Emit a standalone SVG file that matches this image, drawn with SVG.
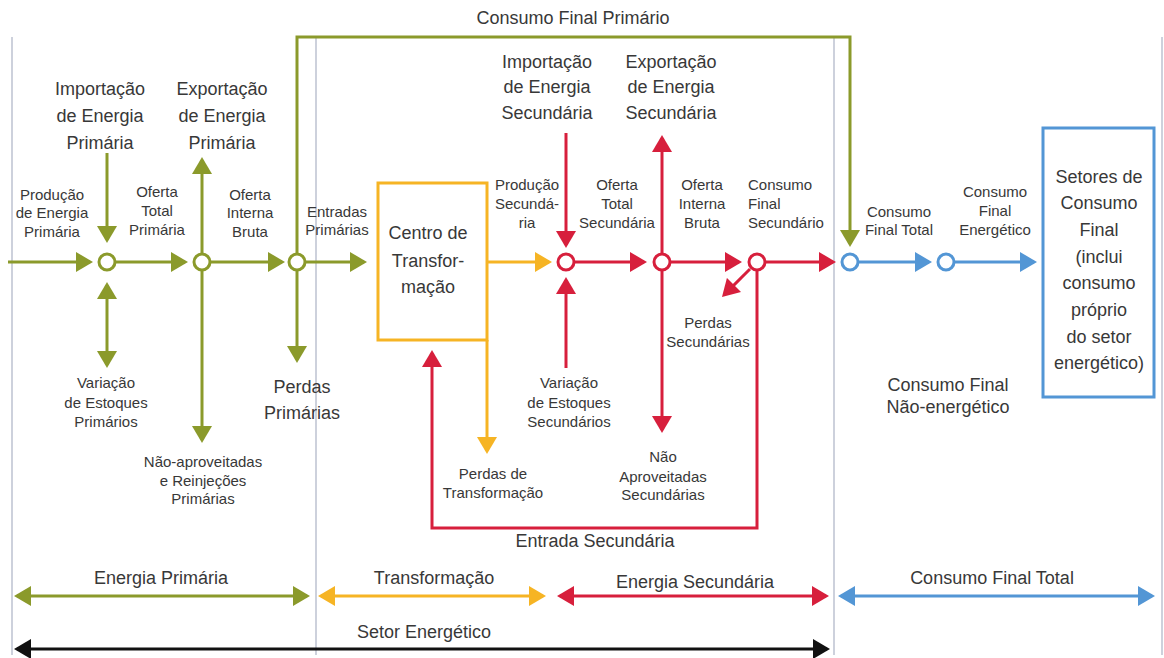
<svg xmlns="http://www.w3.org/2000/svg" width="1164" height="658" viewBox="0 0 1164 658">
<style>
text{font-family:"Liberation Sans",Arial,sans-serif;fill:#383838;text-anchor:middle}
.b{font-size:18px}
.s{font-size:15px}
.l{text-anchor:start}
.grid{stroke:#cdd1dc;stroke-width:2;fill:none}
.c{fill:none;stroke-width:3;stroke-linejoin:miter}
.g{stroke:#8b9a2b}.y{stroke:#f6b424}.r{stroke:#d71f3c}.u{stroke:#5396d5}.k{stroke:#111}
.n{fill:#fff;stroke-width:3}
</style>
<defs>
<marker id="ag" viewBox="0 0 17 20" refX="14" refY="10" markerWidth="17" markerHeight="20" markerUnits="userSpaceOnUse" orient="auto-start-reverse"><path d="M0,0L17,10L0,20z" fill="#8b9a2b"/></marker>
<marker id="ay" viewBox="0 0 17 20" refX="14" refY="10" markerWidth="17" markerHeight="20" markerUnits="userSpaceOnUse" orient="auto-start-reverse"><path d="M0,0L17,10L0,20z" fill="#f6b424"/></marker>
<marker id="ar" viewBox="0 0 17 20" refX="14" refY="10" markerWidth="17" markerHeight="20" markerUnits="userSpaceOnUse" orient="auto-start-reverse"><path d="M0,0L17,10L0,20z" fill="#d71f3c"/></marker>
<marker id="au" viewBox="0 0 17 20" refX="14" refY="10" markerWidth="17" markerHeight="20" markerUnits="userSpaceOnUse" orient="auto-start-reverse"><path d="M0,0L17,10L0,20z" fill="#5396d5"/></marker>
<marker id="ak" viewBox="0 0 17 20" refX="14" refY="10" markerWidth="17" markerHeight="20" markerUnits="userSpaceOnUse" orient="auto-start-reverse"><path d="M0,0L17,10L0,20z" fill="#111"/></marker>
</defs>
<rect width="1164" height="658" fill="#fff"/>
<g id="grid">
<line class="grid" x1="12" y1="37" x2="12" y2="655"/>
<line class="grid" x1="316" y1="37" x2="316" y2="655"/>
<line class="grid" x1="834" y1="37" x2="834" y2="655"/>
<line class="grid" x1="1162" y1="37" x2="1162" y2="655"/>
</g>
<g id="connectors">
<path class="c g" d="M8,262H90" marker-end="url(#ag)"/>
<path class="c g" d="M116,262H185" marker-end="url(#ag)"/>
<path class="c g" d="M211,262H282" marker-end="url(#ag)"/>
<path class="c g" d="M306,262H364" marker-end="url(#ag)"/>
<path class="c g" d="M107,153V240" marker-end="url(#ag)"/>
<path class="c g" d="M107,285V365" marker-start="url(#ag)" marker-end="url(#ag)"/>
<path class="c g" d="M202,253V160" marker-end="url(#ag)"/>
<path class="c g" d="M202,271V440" marker-end="url(#ag)"/>
<path class="c g" d="M297,271V360" marker-end="url(#ag)"/>
<path class="c g" d="M297,253V37H850V244" marker-end="url(#ag)"/>
<path class="c y" d="M487,262H549" marker-end="url(#ay)"/>
<path class="c y" d="M487,340V451" marker-end="url(#ay)"/>
<path class="c r" d="M566,133V245" marker-end="url(#ar)"/>
<path class="c r" d="M566,368V280" marker-end="url(#ar)"/>
<path class="c r" d="M575,262H644" marker-end="url(#ar)"/>
<path class="c r" d="M662,253V138" marker-end="url(#ar)"/>
<path class="c r" d="M662,271V430" marker-end="url(#ar)"/>
<path class="c r" d="M671,262H739" marker-end="url(#ar)"/>
<path class="c r" d="M766,262H833" marker-end="url(#ar)"/>
<path class="c r" d="M750,269L724.1,294.9" marker-end="url(#ar)"/>
<path class="c r" d="M757,271V528H432V353" marker-end="url(#ar)"/>
<path class="c u" d="M859,262H929" marker-end="url(#au)"/>
<path class="c u" d="M955,262H1034" marker-end="url(#au)"/>
<path class="c g" d="M17,596H307" marker-start="url(#ag)" marker-end="url(#ag)"/>
<path class="c y" d="M321,596H543" marker-start="url(#ay)" marker-end="url(#ay)"/>
<path class="c r" d="M560,596H826" marker-start="url(#ar)" marker-end="url(#ar)"/>
<path class="c u" d="M841,596H1152" marker-start="url(#au)" marker-end="url(#au)"/>
<path class="c k" d="M17,649H827" marker-start="url(#ak)" marker-end="url(#ak)"/>
</g>
<g id="node-p1"><circle class="n g" cx="107" cy="262" r="8"/></g>
<g id="node-p2"><circle class="n g" cx="202" cy="262" r="8"/></g>
<g id="node-p3"><circle class="n g" cx="297" cy="262" r="8"/></g>
<g id="node-s1"><circle class="n r" cx="566" cy="262" r="8"/></g>
<g id="node-s2"><circle class="n r" cx="662" cy="262" r="8"/></g>
<g id="node-s3"><circle class="n r" cx="757" cy="262" r="8"/></g>
<g id="node-f1"><circle class="n u" cx="850" cy="262" r="8"/></g>
<g id="node-f2"><circle class="n u" cx="946" cy="262" r="8"/></g>
<g id="node-centro">
<rect x="378" y="183" width="109" height="157" fill="none" class="y" stroke-width="3"/>
<text class="b" x="428" y="239">Centro de</text>
<text class="b" x="428" y="267">Transfor-</text>
<text class="b" x="428" y="293">mação</text>
</g>
<g id="node-setores">
<rect x="1043" y="128" width="111" height="269" fill="none" class="u" stroke-width="3"/>
<text class="b" x="1099" y="183">Setores de</text>
<text class="b" x="1099" y="209">Consumo</text>
<text class="b" x="1099" y="236">Final</text>
<text class="b" x="1099" y="263">(inclui</text>
<text class="b" x="1099" y="289">consumo</text>
<text class="b" x="1099" y="316">próprio</text>
<text class="b" x="1099" y="343">do setor</text>
<text class="b" x="1099" y="369">energético)</text>
</g>
<g id="labels">
<text class="b" x="573" y="24">Consumo Final Primário</text>
<text class="b" x="100" y="95">Importação</text><text class="b" x="100" y="122">de Energia</text><text class="b" x="100" y="149">Primária</text>
<text class="b" x="222" y="95">Exportação</text><text class="b" x="222" y="122">de Energia</text><text class="b" x="222" y="149">Primária</text>
<text class="b" x="547" y="68">Importação</text><text class="b" x="547" y="93">de Energia</text><text class="b" x="547" y="119">Secundária</text>
<text class="b" x="671" y="68">Exportação</text><text class="b" x="671" y="93">de Energia</text><text class="b" x="671" y="119">Secundária</text>
<text class="b" x="302" y="393">Perdas</text><text class="b" x="302" y="419">Primárias</text>
<text class="b" x="595" y="547">Entrada Secundária</text>
<text class="b" x="948" y="391">Consumo Final</text><text class="b" x="948" y="413">Não-energético</text>
<text class="s" x="52" y="200">Produção</text><text class="s" x="52" y="218">de Energia</text><text class="s" x="52" y="237">Primária</text>
<text class="s" x="157" y="197">Oferta</text><text class="s" x="157" y="216">Total</text><text class="s" x="157" y="235">Primária</text>
<text class="s" x="250" y="200">Oferta</text><text class="s" x="250" y="218">Interna</text><text class="s" x="250" y="237">Bruta</text>
<text class="s" x="337" y="217">Entradas</text><text class="s" x="337" y="235">Primárias</text>
<text class="s" x="106" y="388">Variação</text><text class="s" x="106" y="408">de Estoques</text><text class="s" x="106" y="427">Primários</text>
<text class="s" x="203" y="467">Não-aproveitadas</text><text class="s" x="203" y="486">e Reinjeções</text><text class="s" x="203" y="504">Primárias</text>
<text class="s" x="527" y="190">Produção</text><text class="s" x="527" y="209">Secundá-</text><text class="s" x="527" y="228">ria</text>
<text class="s" x="617" y="190">Oferta</text><text class="s" x="617" y="209">Total</text><text class="s" x="617" y="228">Secundária</text>
<text class="s" x="702" y="190">Oferta</text><text class="s" x="702" y="209">Interna</text><text class="s" x="702" y="228">Bruta</text>
<text class="s l" x="748" y="190">Consumo</text><text class="s l" x="748" y="209">Final</text><text class="s l" x="748" y="228">Secundário</text>
<text class="s" x="708" y="328">Perdas</text><text class="s" x="708" y="347">Secundárias</text>
<text class="s" x="569" y="388">Variação</text><text class="s" x="569" y="408">de Estoques</text><text class="s" x="569" y="427">Secundários</text>
<text class="s" x="663" y="462">Não</text><text class="s" x="663" y="482">Aproveitadas</text><text class="s" x="663" y="500">Secundárias</text>
<text class="s" x="493" y="479">Perdas de</text><text class="s" x="493" y="498">Transformação</text>
<text class="s" x="899" y="217">Consumo</text><text class="s" x="899" y="235">Final Total</text>
<text class="s" x="995" y="197">Consumo</text><text class="s" x="995" y="216">Final</text><text class="s" x="995" y="235">Energético</text>
<text class="b" x="161" y="584">Energia Primária</text>
<text class="b" x="434" y="584">Transformação</text>
<text class="b" x="695" y="588">Energia Secundária</text>
<text class="b" x="992" y="584">Consumo Final Total</text>
<text class="b" x="424" y="638">Setor Energético</text>
</g>
</svg>
